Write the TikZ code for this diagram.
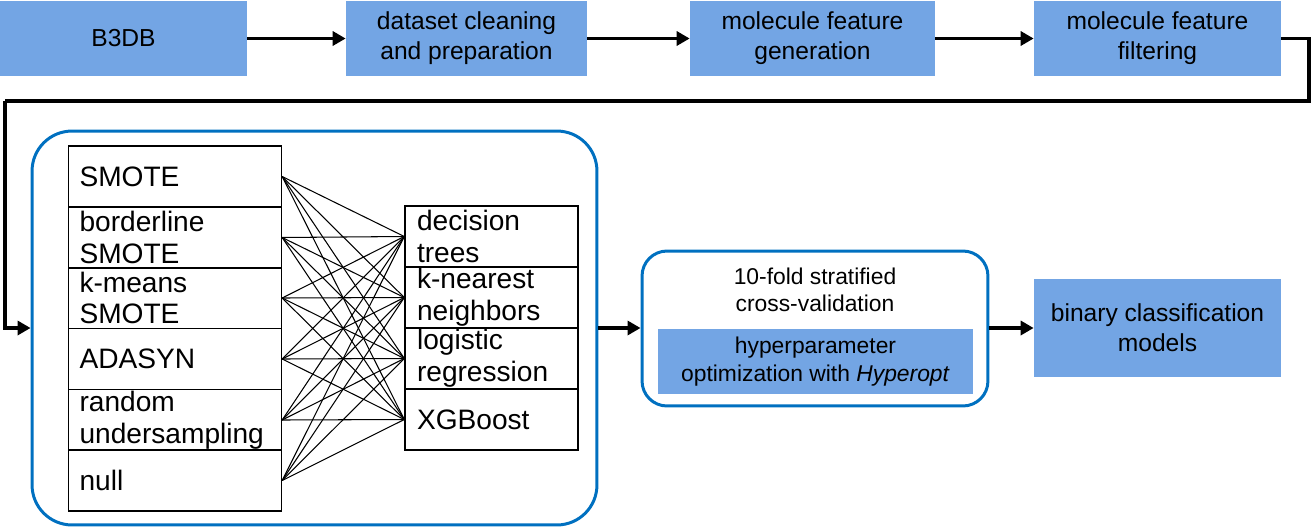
\documentclass[tikz,border=0pt]{standalone}
\usepackage{fontspec}
\setmainfont{Liberation Sans}
\usetikzlibrary{arrows.meta}

\definecolor{boxblue}{RGB}{115,165,228}
\definecolor{edgeblue}{RGB}{0,112,192}

\begin{document}
\begin{tikzpicture}[x=0.02cm,y=-0.02cm,
  stage/.style={fill=boxblue, minimum height=1.5cm, align=center,
    font=\fontsize{14}{17}\selectfont},
  frame/.style={draw=edgeblue, line width=1.7pt},
  item/.style={draw, line width=0.8pt, minimum height=1.22cm, align=left,
    inner ysep=0pt, font=\fontsize{16}{18}\selectfont},
  flow/.style={line width=2.2pt, -{Triangle[length=0.26cm,width=0.28cm]}}]

\useasboundingbox (0,0) rectangle (1313,528);

% top row
\node[stage, minimum width=4.94cm] (b3db) at (123.5,38.5) {B3DB};
\node[stage, minimum width=4.82cm] (clean) at (466.5,38.5) {dataset cleaning\\and preparation};
\node[stage, minimum width=4.9cm] (gen) at (812.5,38.5) {molecule feature\\generation};
\node[stage, minimum width=4.94cm] (filter) at (1157.5,38.5) {molecule feature\\filtering};

\draw[flow] (b3db.east) -- (clean.west);
\draw[flow] (clean.east) -- (gen.west);
\draw[flow] (gen.east) -- (filter.west);

% sampling x classifier
\node[frame, rounded corners=0.8cm, minimum width=11.3cm, minimum height=7.88cm] (sampling) at (314.5,328) {};

\node[item, text width=3.82cm, inner xsep=0.22cm] (l1) at (175,176.5) {SMOTE};
\node[item, text width=3.82cm, inner xsep=0.22cm] (l2) at (175,237.5) {borderline\\SMOTE};
\node[item, text width=3.82cm, inner xsep=0.22cm] (l3) at (175,298) {k-means\\SMOTE};
\node[item, text width=3.82cm, inner xsep=0.22cm] (l4) at (175,359) {ADASYN};
\node[item, text width=3.82cm, inner xsep=0.22cm] (l5) at (175,420) {random\\undersampling};
\node[item, text width=3.82cm, inner xsep=0.22cm] (l6) at (175,480.5) {null};

\node[item, text width=2.98cm, inner xsep=0.24cm] (r1) at (491.5,236.5) {decision\\trees};
\node[item, text width=2.98cm, inner xsep=0.24cm] (r2) at (491.5,297.5) {k-nearest\\neighbors};
\node[item, text width=2.98cm, inner xsep=0.24cm] (r3) at (491.5,358.5) {logistic\\regression};
\node[item, text width=2.98cm, inner xsep=0.24cm] (r4) at (491.5,419.5) {XGBoost};

\foreach \i in {1,...,6}
  \foreach \j in {1,...,4}
    \draw[line width=0.6pt] (l\i.east) -- (r\j.west);

% validation and output
\node[frame, rounded corners=0.5cm, minimum width=6.92cm, minimum height=3.1cm] (cv) at (815,328.5) {};
\node[align=center, font=\fontsize{13}{15.5}\selectfont] (cvtext) at (815,290) {10-fold stratified\\cross-validation};
\node[fill=boxblue, minimum width=6.3cm, minimum height=1.3cm, align=center,
  font=\fontsize{13}{15.5}\selectfont] (hyper) at (815.5,361.5) {hyperparameter\\optimization with \textit{Hyperopt}};
\node[stage, minimum width=4.94cm, minimum height=1.96cm] (models) at (1157.5,328) {binary classification\\models};

\coordinate (turnR) at (1309,101);
\coordinate (turnL) at (5,101);
\draw[line width=2.2pt] (filter.east) -| (turnR) -- (turnL);
\draw[flow] (turnL) |- (sampling.west);
\draw[flow] (sampling.east) -- (sampling.east -| cv.west);
\draw[flow] (cv.east |- models.west) -- (models.west);

\end{tikzpicture}
\end{document}
